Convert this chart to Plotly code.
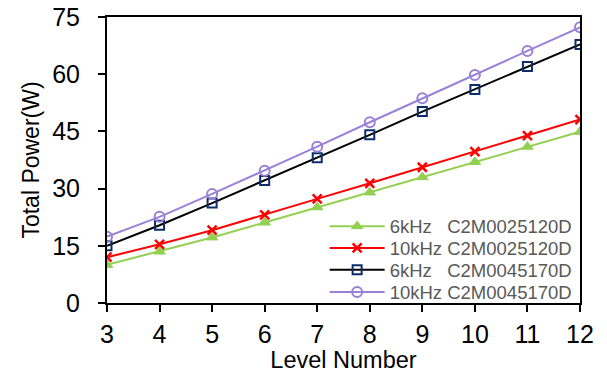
import plotly.graph_objects as go

levels = [3, 4, 5, 6, 7, 8, 9, 10, 11, 12]
p_6k_25 = [10.0, 13.5, 17.2, 21.1, 25.1, 29.0, 33.0, 37.0, 41.0, 44.9]
p_10k_25 = [12.0, 15.4, 19.1, 23.1, 27.3, 31.4, 35.6, 39.7, 43.9, 48.1]
p_6k_45 = [15.0, 20.4, 26.2, 32.1, 38.1, 44.1, 50.2, 56.0, 62.0, 67.8]
p_10k_45 = [17.4, 22.6, 28.6, 34.7, 41.0, 47.4, 53.7, 59.8, 66.1, 72.3]

nb = "\u00a0"
names = ["6kHz" + nb * 3 + "C2M0025120D", "10kHz" + nb + "C2M0025120D",
         "6kHz" + nb * 3 + "C2M0045170D", "10kHz" + nb + "C2M0045170D"]

FONT = "Arial, Liberation Sans, sans-serif"

fig = go.Figure()
fig.add_trace(go.Scatter(x=levels, y=p_6k_25, name=names[0], mode="lines+markers",
                         line=dict(color="#92D050", width=2), legend="legend2",
                         marker=dict(symbol="triangle-up", size=10, color="#92D050",
                                     line=dict(color="#92D050", width=1))))
fig.add_trace(go.Scatter(x=levels, y=p_10k_25, name=names[1], mode="lines+markers",
                         line=dict(color="#FF0000", width=2), legend="legend3",
                         marker=dict(symbol="x-thin", size=9, color="#FF0000",
                                     line=dict(color="#FF0000", width=2.5))))
fig.add_trace(go.Scatter(x=levels, y=p_6k_45, name=names[2], mode="lines+markers",
                         line=dict(color="#000000", width=2), legend="legend4",
                         marker=dict(symbol="square-open", size=9, color="#0C2D6B",
                                     line=dict(color="#0C2D6B", width=2))))
fig.add_trace(go.Scatter(x=levels, y=p_10k_45, name=names[3], mode="lines+markers",
                         line=dict(color="#9980D8", width=2), legend="legend5",
                         marker=dict(symbol="circle-open", size=10, color="#9980D8",
                                     line=dict(color="#9980D8", width=2))))

axis_common = dict(showline=True, linecolor="black", linewidth=2, mirror=True,
                   ticks="outside", ticklen=7, tickwidth=2, tickcolor="black",
                   showgrid=False, zeroline=False, automargin=False,
                   tickfont=dict(family=FONT, size=25, color="black"))

fig.update_xaxes(range=[3, 12], tickvals=levels, **axis_common, ticklabelstandoff=1,
                 title=dict(text="Level Number", standoff=5,
                            font=dict(family=FONT, size=23.5, color="black")))
fig.update_yaxes(range=[0, 75], tickvals=[0, 15, 30, 45, 60, 75], **axis_common,
                 ticklabelstandoff=13,
                 title=dict(text="Total Power(W)", standoff=6,
                            font=dict(family=FONT, size=23, color="black")))

leg = dict(x=0.995, xanchor="right", yanchor="middle",
           bgcolor="rgba(255,255,255,0)", itemwidth=55,
           font=dict(family=FONT, size=18.5, color="#595959"))
row_y = [0.267, 0.191, 0.115, 0.037]

fig.update_layout(width=607, height=373, margin=dict(l=107, r=27, t=17, b=70),
                  plot_bgcolor="white", paper_bgcolor="white", showlegend=True,
                  legend2=dict(leg, y=row_y[0]),
                  legend3=dict(leg, y=row_y[1]),
                  legend4=dict(leg, y=row_y[2]),
                  legend5=dict(leg, y=row_y[3]))

fig.write_html("out.html", config={"displayModeBar": False},
               post_script="document.body.style.margin='0';")
